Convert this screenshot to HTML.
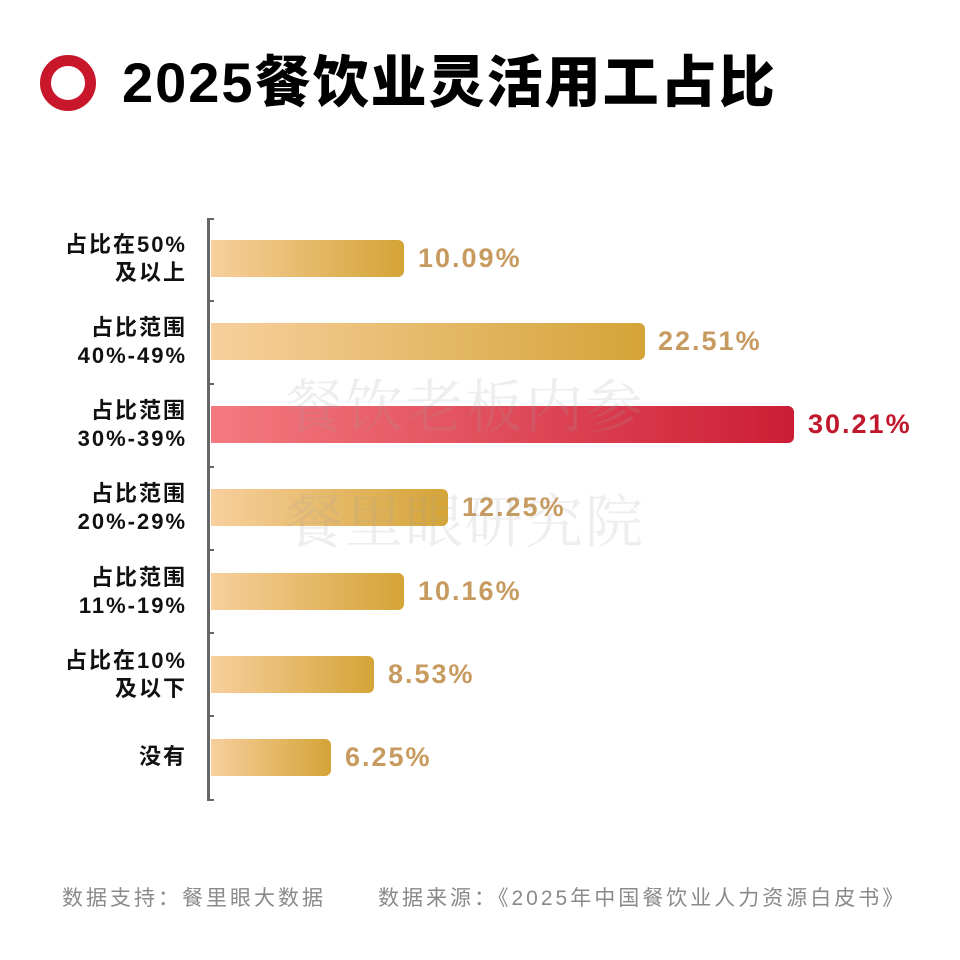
<!DOCTYPE html>
<html><head><meta charset="utf-8"><style>
body{margin:0;width:960px;height:960px;background:#fff;position:relative;overflow:hidden;font-family:"Liberation Sans","Noto Sans CJK SC",sans-serif}
.ring{position:absolute;left:40px;top:55px;width:34px;height:34px;border:11px solid #c8172b;border-radius:50%}
.title{position:absolute;left:122px;top:50px;font-size:56px;font-weight:900;color:#000;line-height:66px;letter-spacing:2px}
.axis{position:absolute;left:207px;top:218px;width:3px;height:583px;background:#666}
.tick{position:absolute;left:207px;width:7px;height:2px;background:#666}
.bar{position:absolute;left:211px;height:37px;border-radius:0 6px 6px 0;background:linear-gradient(90deg,#f8cf9d,#d4a437)}
.bar.red{background:linear-gradient(90deg,#f47a80,#cc1d35)}
.val{position:absolute;font-size:27px;font-weight:bold;color:#c79b60;line-height:37px;letter-spacing:2px}
.val.red{color:#c0172c}
.lab{position:absolute;right:773px;text-align:right;font-size:22px;font-weight:bold;color:#111;line-height:28px;letter-spacing:2px}
.wm{position:absolute;left:285px;font-size:58px;color:rgba(160,160,160,0.18);letter-spacing:2px;font-family:"Noto Serif CJK SC",serif}
.foot{position:absolute;top:882px;font-size:21px;color:#8a8a8a;letter-spacing:3px}
</style></head><body>
<div class="ring"></div>
<div class="title">2025餐饮业灵活用工占比</div>
<div class="axis"></div>
<div class="tick" style="top:218px"></div><div class="tick" style="top:300px"></div><div class="tick" style="top:383px"></div><div class="tick" style="top:466px"></div><div class="tick" style="top:549px"></div><div class="tick" style="top:632px"></div><div class="tick" style="top:715px"></div><div class="tick" style="top:799px"></div>

<div class="lab" style="top:231px">占比在50%<br>及以上</div>
<div class="lab" style="top:314px">占比范围<br>40%-49%</div>
<div class="lab" style="top:397px">占比范围<br>30%-39%</div>
<div class="lab" style="top:480px">占比范围<br>20%-29%</div>
<div class="lab" style="top:564px">占比范围<br>11%-19%</div>
<div class="lab" style="top:647px">占比在10%<br>及以下</div>
<div class="lab" style="top:743px">没有</div>

<div class="bar" style="top:240px;width:193px"></div><div class="val" style="top:240px;left:418px">10.09%</div>
<div class="bar" style="top:323px;width:434px"></div><div class="val" style="top:323px;left:658px">22.51%</div>
<div class="bar red" style="top:406px;width:583px"></div><div class="val red" style="top:406px;left:808px">30.21%</div>
<div class="bar" style="top:489px;width:237px"></div><div class="val" style="top:489px;left:462px">12.25%</div>
<div class="bar" style="top:573px;width:193px"></div><div class="val" style="top:573px;left:418px">10.16%</div>
<div class="bar" style="top:656px;width:163px"></div><div class="val" style="top:656px;left:388px">8.53%</div>
<div class="bar" style="top:739px;width:120px"></div><div class="val" style="top:739px;left:345px">6.25%</div>

<div class="wm" style="top:360px">餐饮老板内参</div>
<div class="wm" style="top:475px">餐里眼研究院</div>

<div class="foot" style="left:62px">数据支持：餐里眼大数据</div>
<div class="foot" style="left:378px">数据来源：《2025年中国餐饮业人力资源白皮书》</div>
</body></html>
